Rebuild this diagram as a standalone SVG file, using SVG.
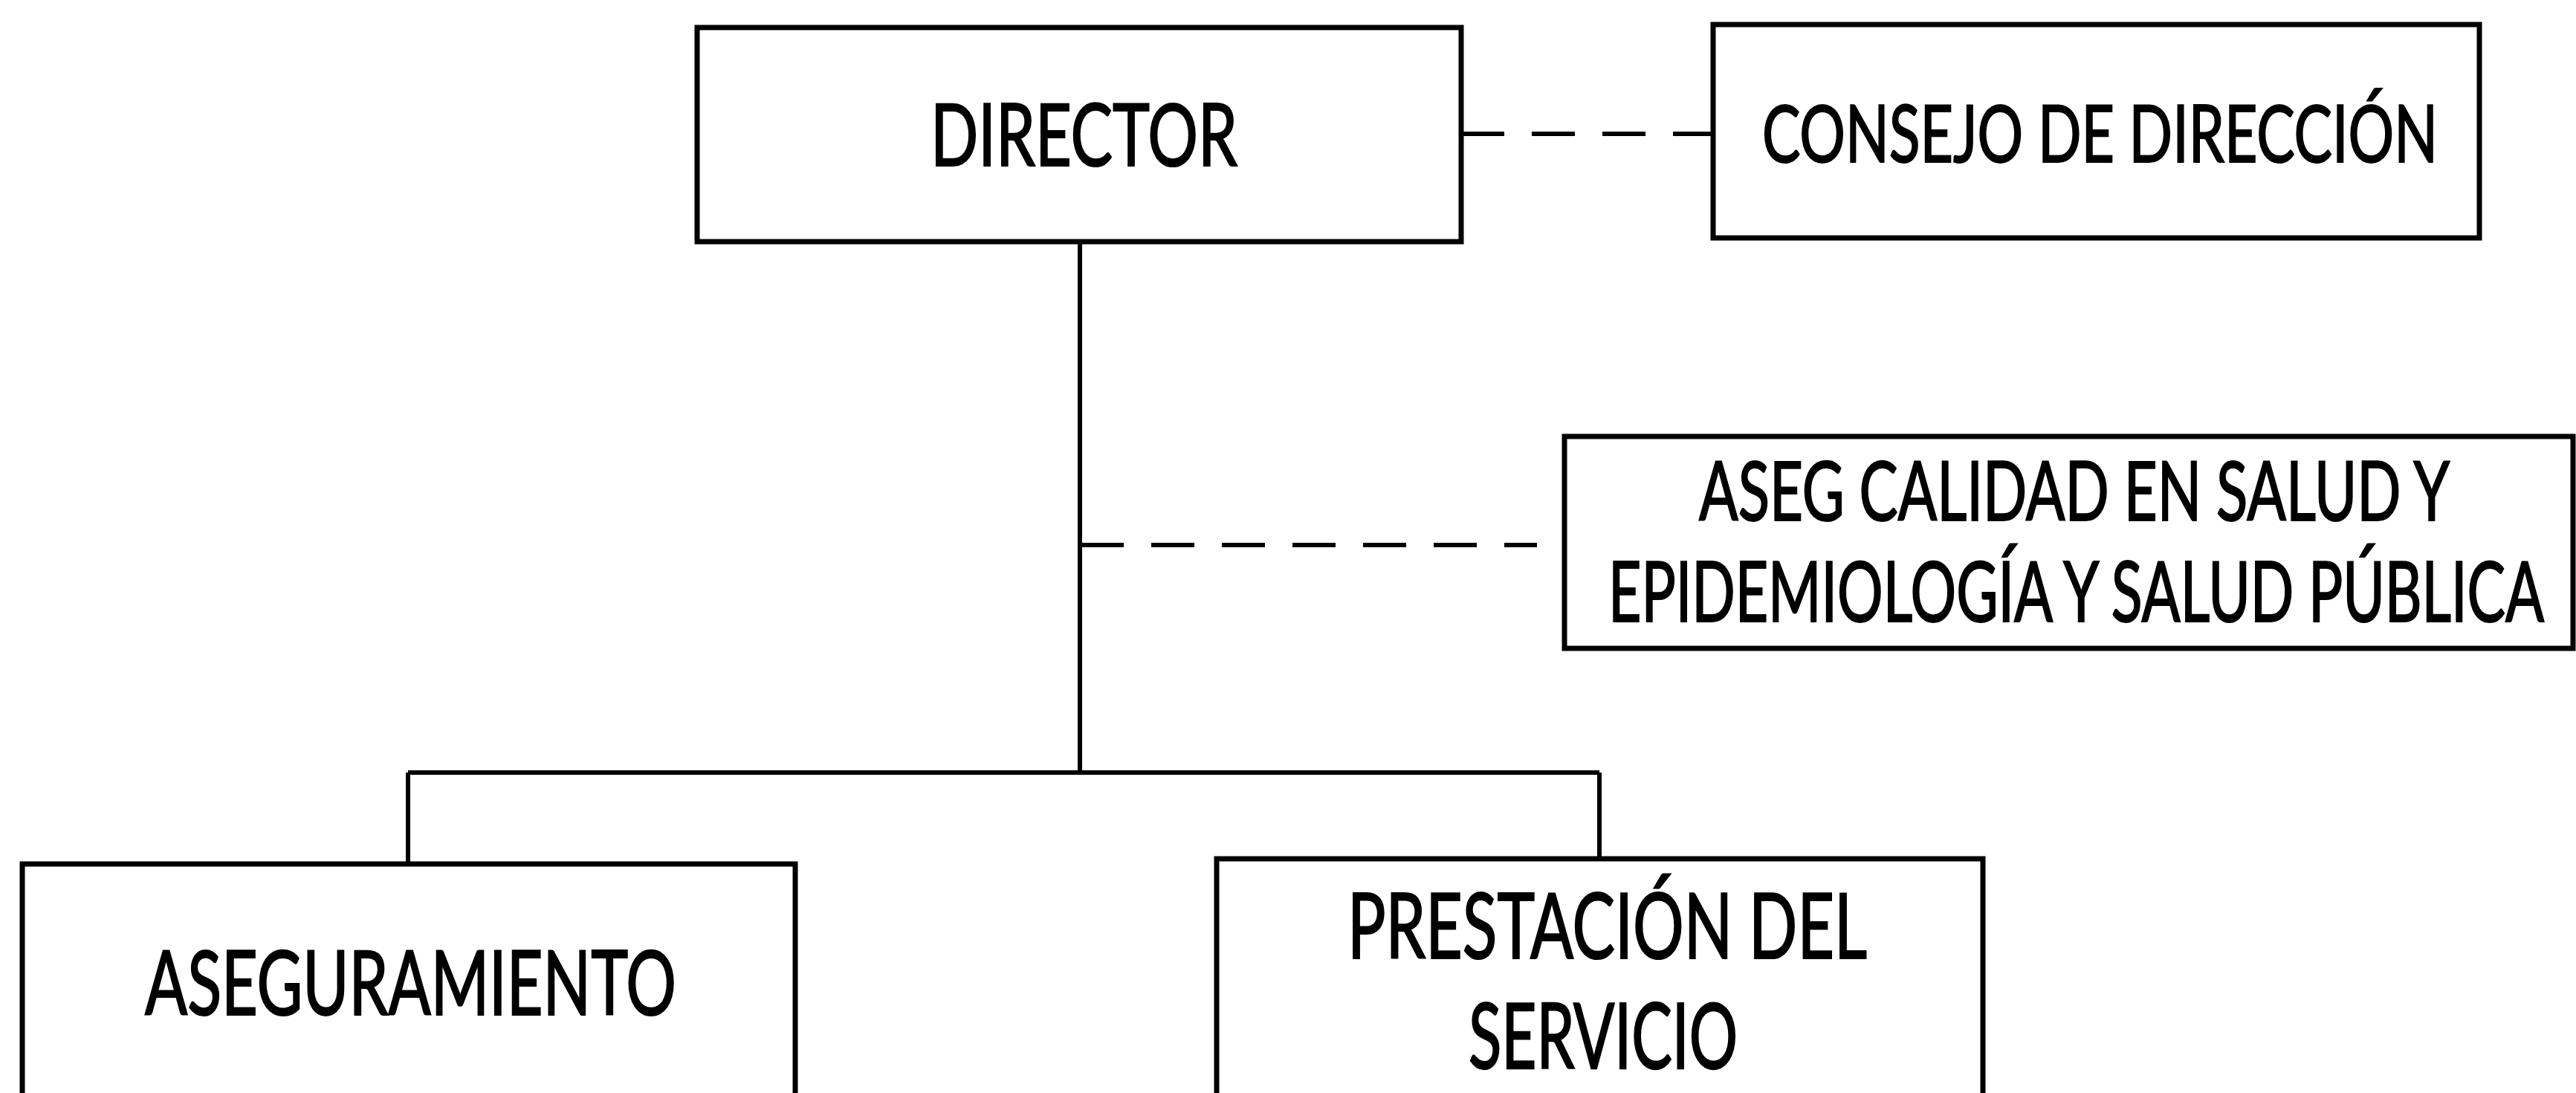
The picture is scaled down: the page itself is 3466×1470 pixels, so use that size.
<svg xmlns="http://www.w3.org/2000/svg" width="3466" height="1470" viewBox="0 0 3466 1470">
<style>
.box{fill:#fff;stroke:#000;stroke-width:7}
.ln{fill:none;stroke:#000;stroke-width:6}
.dash{fill:none;stroke:#000;stroke-width:6;stroke-dasharray:58 37}
.t{font-family:Lato,"Liberation Sans",sans-serif;fill:#000;stroke:#000;stroke-width:1.4}
</style>
<rect width="3466" height="1470" fill="#fff"/>
<g id="connectors">
<line class="ln" x1="1453" y1="325" x2="1453" y2="1039"/>
<line class="ln" x1="549" y1="1039" x2="2152" y2="1039"/>
<line class="ln" x1="549" y1="1039" x2="549" y2="1162"/>
<line class="ln" x1="2152" y1="1039" x2="2152" y2="1155"/>
<line class="dash" x1="1966" y1="180" x2="2305" y2="180"/>
<line class="dash" x1="1454" y1="733" x2="2068" y2="733"/>
</g>
<g id="director">
<rect class="box" x="938" y="37" width="1028" height="288"/>
<text class="t" transform="translate(1252,223) scale(1,1.519)" x="0" y="0" font-size="77" textLength="413" lengthAdjust="spacingAndGlyphs">DIRECTOR</text>
</g>
<g id="consejo">
<rect class="box" x="2305" y="33" width="1031" height="287"/>
<text class="t" transform="translate(2371,218) scale(1,1.493)" x="0" y="0" font-size="71" textLength="909" lengthAdjust="spacingAndGlyphs">CONSEJO DE DIRECCIÓN</text>
</g>
<g id="aseg-calidad">
<rect class="box" x="2105" y="587" width="1357" height="285"/>
<text class="t" transform="translate(2286,700) scale(1,1.528)" x="0" y="0" font-size="72" textLength="1010" lengthAdjust="spacingAndGlyphs">ASEG CALIDAD EN SALUD Y</text>
<text class="t" transform="translate(2164,836) scale(1,1.556)" x="0" y="0" font-size="72" textLength="1259" lengthAdjust="spacingAndGlyphs">EPIDEMIOLOGÍA Y SALUD PÚBLICA</text>
</g>
<g id="aseguramiento">
<rect class="box" x="30" y="1162" width="1040" height="340"/>
<text class="t" transform="translate(195,1365) scale(1,1.571)" x="0" y="0" font-size="77" textLength="715" lengthAdjust="spacingAndGlyphs">ASEGURAMIENTO</text>
</g>
<g id="prestacion">
<rect class="box" x="1637" y="1155" width="1031" height="347"/>
<text class="t" transform="translate(1813,1289) scale(1,1.577)" x="0" y="0" font-size="78" textLength="699" lengthAdjust="spacingAndGlyphs">PRESTACIÓN DEL</text>
<text class="t" transform="translate(1976,1437) scale(1,1.662)" x="0" y="0" font-size="74" textLength="362" lengthAdjust="spacingAndGlyphs">SERVICIO</text>
</g>
</svg>
